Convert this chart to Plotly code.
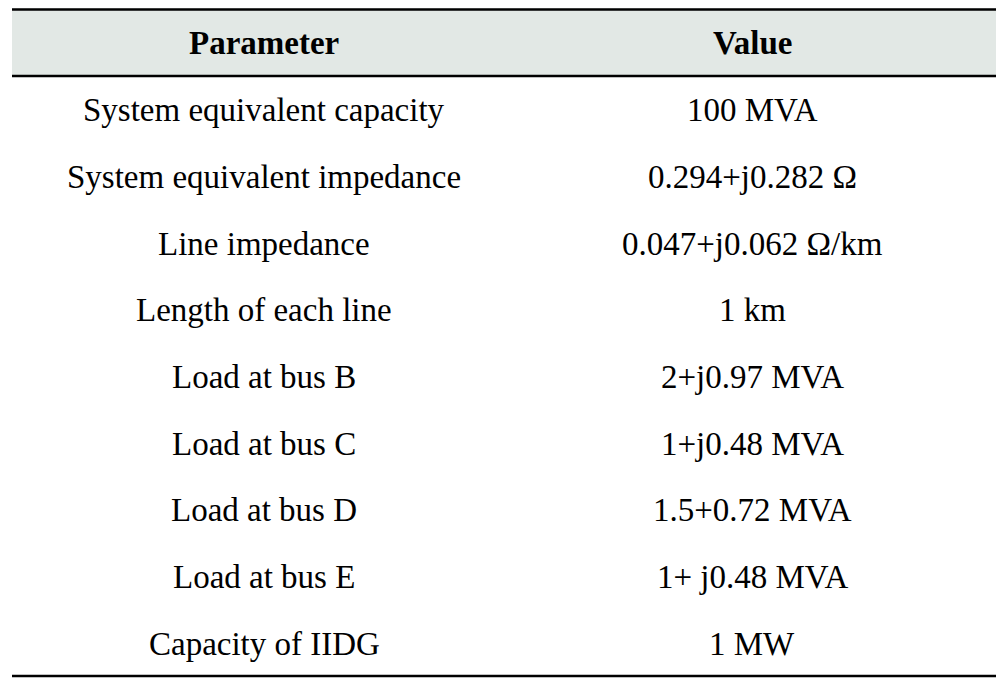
import plotly.graph_objects as go

headers = ["Parameter", "Value"]
parameters = [
    "System equivalent capacity",
    "System equivalent impedance",
    "Line impedance",
    "Length of each line",
    "Load at bus B",
    "Load at bus C",
    "Load at bus D",
    "Load at bus E",
    "Capacity of IIDG",
]
values = [
    "100 MVA",
    "0.294+j0.282 Ω",
    "0.047+j0.062 Ω/km",
    "1 km",
    "2+j0.97 MVA",
    "1+j0.48 MVA",
    "1.5+0.72 MVA",
    "1+ j0.48 MVA",
    "1 MW",
]

# pixel layout (page is offset ~8px by the body margin)
W, H = 1004, 685
top, head_bot, bottom = 0.5, 68, 668
x0, x1 = 4, 988
col_x = [256, 744]

font = dict(family="Liberation Serif, Times New Roman, serif", size=33, color="black")

fig = go.Figure()


def px(x, y):
    return x / W, 1 - y / H


fig.add_shape(type="rect", xref="paper", yref="paper",
              x0=x0 / W, x1=x1 / W, y0=1 - head_bot / H, y1=1 - top / H,
              fillcolor="#e2e8e5", line_width=0, layer="below")
for y in (top + 1, head_bot, bottom):
    fig.add_shape(type="line", xref="paper", yref="paper",
                  x0=x0 / W, x1=x1 / W, y0=1 - y / H, y1=1 - y / H,
                  line=dict(color="black", width=2.5))

head_y = (top + head_bot) / 2 + 1
for cx, h in zip(col_x, headers):
    fig.add_annotation(x=cx / W, y=1 - head_y / H, xref="paper", yref="paper",
                       text=f"<b>{h}</b>", showarrow=False, font=font,
                       xanchor="center", yanchor="middle")

row_h = (bottom - head_bot) / len(parameters)
for i, (p, v) in enumerate(zip(parameters, values)):
    cy = head_bot + row_h * (i + 0.5) + 1
    for cx, t in zip(col_x, (p, v)):
        fig.add_annotation(x=cx / W, y=1 - cy / H, xref="paper", yref="paper",
                           text=t, showarrow=False, font=font,
                           xanchor="center", yanchor="middle")

fig.update_xaxes(visible=False)
fig.update_yaxes(visible=False)
fig.update_layout(width=W, height=H, margin=dict(l=0, r=0, t=0, b=0),
                  paper_bgcolor="white", plot_bgcolor="white")
fig.write_html("out.html")
